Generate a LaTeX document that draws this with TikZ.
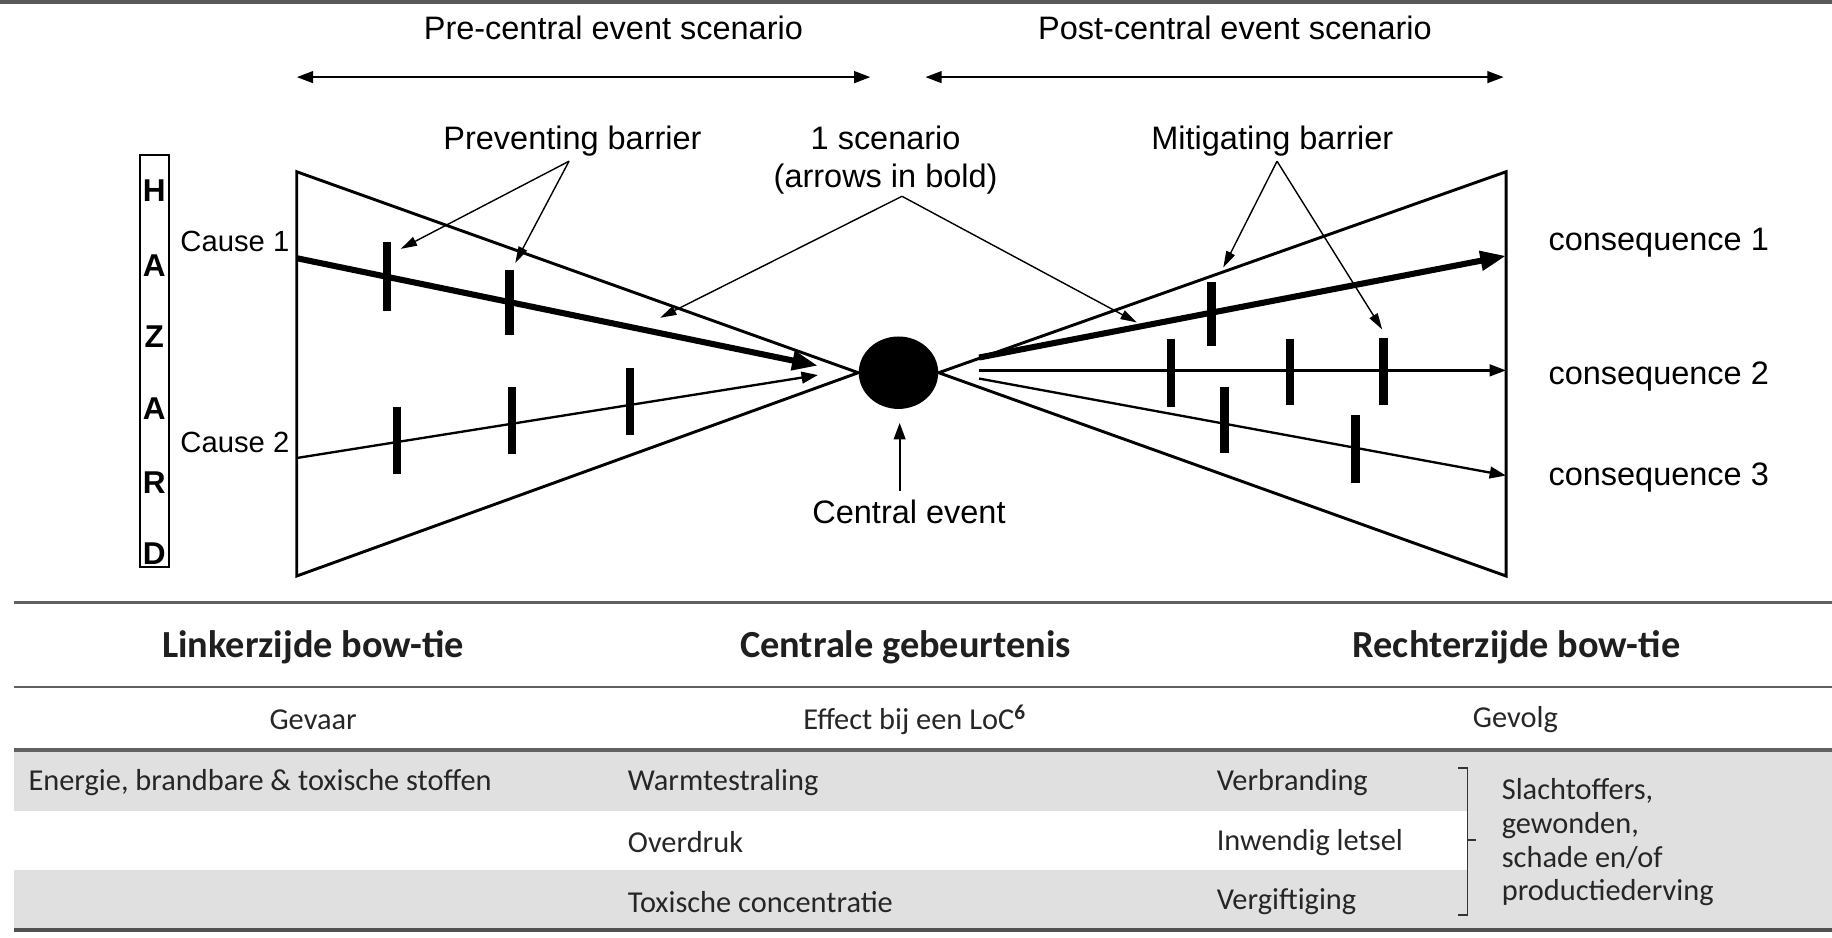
\documentclass[tikz,border=0pt]{standalone}
\usepackage{fontspec}
\setmainfont{Liberation Sans}
\newfontfamily\tabfont{Carlito}
\usetikzlibrary{arrows.meta,shapes.geometric}
\begin{document}
\begin{tikzpicture}[x=0.5pt,y=-0.5pt,
  lbl/.style={font=\fontsize{13.9}{16}\selectfont, inner sep=0pt},
  causelbl/.style={font=\fontsize{12.5}{14}\selectfont, inner sep=0pt},
  hz/.style={font=\bfseries\fontsize{13.5}{15}\selectfont, inner sep=0pt},
  tri/.style={line width=1.25pt, line join=miter},
  boldarr/.style={line width=2.6pt, -{Triangle[length=11pt,width=8pt]}},
  thinarr/.style={line width=1pt, -{Triangle[length=7pt,width=5pt]}},
  ptr/.style={line width=0.6pt, -{Triangle[length=7pt,width=4pt]}},
  span/.style={line width=1pt, {Triangle[length=7pt,width=5pt]}-{Triangle[length=7pt,width=5pt]}},
  barrier/.style={line width=3.6pt},
  rule/.style={draw=black!62, line width=1.3pt},
  thead/.style={font=\tabfont\bfseries\fontsize{16.4}{19}\selectfont, inner sep=0pt, text=black!88},
  tcell/.style={font=\tabfont\fontsize{13}{14.4}\selectfont, inner sep=0pt, text=black!85},
]
\useasboundingbox (0,0) rectangle (1568,802);
% top rule
\draw[draw=black!65, line width=1.6pt] (0,2) -- (1568,2);

% scenario headers
\node[lbl] (pre) at (525,24) {Pre-central event scenario};
\node[lbl] (post) at (1057,24) {Post-central event scenario};
\coordinate (preL) at (254,66); \coordinate (preR) at (745,66);
\coordinate (postL) at (792,66); \coordinate (postR) at (1287,66);
\draw[span] (preL) -- (preR);
\draw[span] (postL) -- (postR);

% hazard box
\node[draw, line width=0.8pt, minimum width=12.5pt, minimum height=176pt, inner sep=0pt] (hazbox) at (132.5,309) {};
\node[hz] (h1) at (132,163) {H};
\node[hz] (h2) at (132,227) {A};
\node[hz] (h3) at (132,288) {Z};
\node[hz] (h4) at (132,350) {A};
\node[hz] (h5) at (132,413) {R};
\node[hz] (h6) at (132,474) {D};

% central event
\node[ellipse, fill=black, minimum width=34pt, minimum height=31pt, inner sep=0pt] (ce) at (769,319) {};
\node[lbl] (celbl) at (778,438) {Central event};
\coordinate (cebot) at (770,420); \coordinate (cetip) at (770,362);
\draw[thinarr, line width=0.8pt] (cebot) -- (cetip);

% triangles
\coordinate (L1) at (254,147); \coordinate (L2) at (254,493);
\coordinate (R1) at (1289,147); \coordinate (R2) at (1289,493);
\draw[tri] (ce.west) -- (L1) -- (L2) -- cycle;
\draw[tri] (ce.east) -- (R1) -- (R2) -- cycle;

% causes
\node[causelbl, anchor=east] (cause1) at (248,207) {Cause 1};
\node[causelbl, anchor=east] (cause2) at (248,379) {Cause 2};
\coordinate (c1s) at (254,221); \coordinate (c1e) at (700,313);
\coordinate (c2s) at (254,392); \coordinate (c2e) at (700,321);
\draw[boldarr] (c1s) -- (c1e);
\draw[thinarr] (c2s) -- (c2e);

% preventing barriers
\draw[barrier] (331,207) -- (331,266);
\draw[barrier] (436,231) -- (436,287);
\draw[barrier] (340,348) -- (340,406);
\draw[barrier] (438,331) -- (438,389);
\draw[barrier] (539,315) -- (539,372);

% consequences
\node[lbl, anchor=west] (q1) at (1325,208) {consequence 1};
\node[lbl, anchor=west] (q2) at (1325,322) {consequence 2};
\node[lbl, anchor=west] (q3) at (1325,409) {consequence 3};
\coordinate (k1s) at (838,306); \coordinate (k1e) at (1289,219);
\coordinate (k2s) at (838,317); \coordinate (k2e) at (1289,317);
\coordinate (k3s) at (838,324); \coordinate (k3e) at (1289,407);
\draw[boldarr] (k1s) -- (k1e);
\draw[thinarr] (k2s) -- (k2e);
\draw[thinarr] (k3s) -- (k3e);

% mitigating barriers
\draw[barrier] (1037,241) -- (1037,296);
\draw[barrier] (1002,290) -- (1002,348);
\draw[barrier] (1104,290) -- (1104,347);
\draw[barrier] (1184,289) -- (1184,347);
\draw[barrier] (1048,331) -- (1048,388);
\draw[barrier] (1160,355) -- (1160,413);

% labels with pointers
\node[lbl] (prev) at (490,121) {Preventing barrier};
\coordinate (prevA) at (487,138);
\coordinate (prevT1) at (343,213); \coordinate (prevT2) at (441,225);
\draw[ptr] (prevA) -- (prevT1);
\draw[ptr] (prevA) -- (prevT2);

\node[lbl, align=center, font=\fontsize{13.9}{16}\selectfont] (scen) at (758,137) {1 scenario\\(arrows in bold)};
\coordinate (scenA) at (772,168);
\coordinate (scenT1) at (565,272); \coordinate (scenT2) at (973,276);
\draw[ptr] (scenA) -- (scenT1);
\draw[ptr] (scenA) -- (scenT2);

\node[lbl] (mit) at (1089,121) {Mitigating barrier};
\coordinate (mitA) at (1093,138);
\coordinate (mitT1) at (1047,229); \coordinate (mitT2) at (1183,282);
\draw[ptr] (mitA) -- (mitT1);
\draw[ptr] (mitA) -- (mitT2);

% ---------- table ----------
\fill[black!12] (12,643) rectangle (1568,694);
\fill[black!12] (12,745) rectangle (1568,795);
\fill[black!12] (1256,694) rectangle (1568,745);
\draw[rule] (12,516) -- (1568,516);
\draw[rule, line width=1pt] (12,588) -- (1568,588);
\draw[rule, line width=1.4pt] (12,642) -- (1568,642);
\draw[rule, line width=1.6pt, draw=black!68] (12,796) -- (1568,796);

\node[thead] (th1) at (268,554) {Linkerzijde bow-tie};
\node[thead] (th2) at (775,554) {Centrale gebeurtenis};
\node[thead] (th3) at (1298,554) {Rechterzijde bow-tie};

\node[tcell] (r1) at (268,616) {Gevaar};
\node[tcell] (r2) at (783,616) {Effect bij een LoC\textsuperscript{\bfseries 6}};
\node[tcell] (r3) at (1297,616) {Gevolg};

\node[tcell, anchor=west] (e1) at (24,670) {Energie, brandbare \& toxische stoffen};
\node[tcell, anchor=west] (w1) at (537,670) {Warmtestraling};
\node[tcell, anchor=west] (w2) at (537,721) {Overdruk};
\node[tcell, anchor=west] (w3) at (537,772) {Toxische concentratie};
\node[tcell, anchor=west] (v1) at (1041,670) {Verbranding};
\node[tcell, anchor=west] (v2) at (1041,721) {Inwendig letsel};
\node[tcell, anchor=west] (v3) at (1041,772) {Vergiftiging};

\draw[line width=0.8pt, draw=black!80] (1248,657) -- (1256,657) -- (1256,783) -- (1248,783);
\draw[line width=0.8pt, draw=black!80] (1256,719) -- (1263,719);
\node[tcell, anchor=west, align=left, font=\tabfont\fontsize{13}{14.4}\selectfont] (slacht) at (1285,721) {Slachtoffers,\\gewonden,\\schade en/of\\productiederving};
\end{tikzpicture}
\end{document}
